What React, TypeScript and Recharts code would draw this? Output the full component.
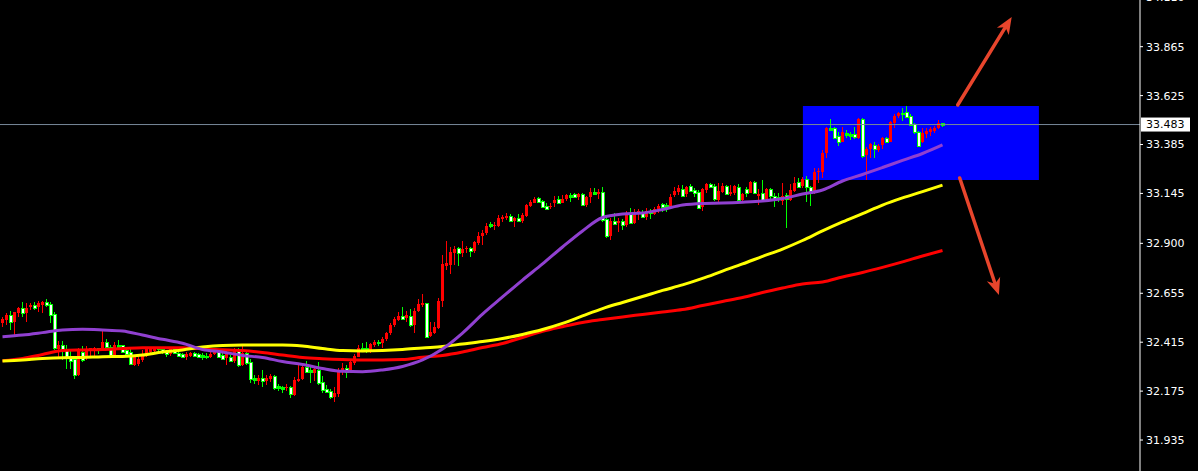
import {
  Bar,
  ComposedChart,
  Line,
  ReferenceArea,
  ReferenceLine,
  XAxis,
  YAxis,
} from 'recharts'

// H1 candles, oldest first
const openPrices = [
  32.507, 32.524, 32.550, 32.514, 32.556, 32.583, 32.560, 32.586, 32.596, 32.589,
  32.596, 32.612, 32.602, 32.553, 32.380, 32.401, 32.381, 32.344, 32.331, 32.254,
  32.367, 32.336, 32.376, 32.373, 32.385, 32.385, 32.417, 32.393, 32.344, 32.401,
  32.401, 32.376, 32.368, 32.303, 32.308, 32.327, 32.352, 32.368, 32.370, 32.388,
  32.380, 32.370, 32.357, 32.381, 32.360, 32.357, 32.344, 32.347, 32.360, 32.357,
  32.354, 32.347, 32.340, 32.357, 32.368, 32.350, 32.336, 32.340, 32.324, 32.376,
  32.303, 32.363, 32.319, 32.237, 32.226, 32.241, 32.226, 32.233, 32.249, 32.200,
  32.193, 32.188, 32.193, 32.156, 32.224, 32.233, 32.291, 32.278, 32.265, 32.278,
  32.219, 32.187, 32.175, 32.144, 32.161, 32.270, 32.288, 32.270, 32.311, 32.344,
  32.385, 32.388, 32.373, 32.403, 32.417, 32.409, 32.429, 32.458, 32.499, 32.524,
  32.544, 32.532, 32.544, 32.499, 32.568, 32.598, 32.606, 32.445, 32.458, 32.486,
  32.617, 32.789, 32.794, 32.854, 32.879, 32.851, 32.871, 32.876, 32.864, 32.900,
  32.936, 32.949, 32.995, 32.985, 32.985, 33.021, 33.026, 33.034, 33.010, 33.023,
  33.010, 33.036, 33.083, 33.100, 33.121, 33.108, 33.083, 33.077, 33.096, 33.116,
  33.100, 33.116, 33.137, 33.142, 33.126, 33.142, 33.088, 33.126, 33.152, 33.142,
  33.152, 33.018, 32.936, 33.010, 32.998, 33.010, 32.990, 33.047, 33.001, 33.047,
  33.055, 33.031, 33.059, 33.044, 33.067, 33.091, 33.087, 33.077, 33.137, 33.154,
  33.165, 33.142, 33.181, 33.162, 33.152, 33.077, 33.162, 33.190, 33.181, 33.113,
  33.154, 33.181, 33.142, 33.145, 33.178, 33.113, 33.165, 33.149, 33.203, 33.132,
  33.149, 33.116, 33.165, 33.132, 33.126, 33.109, 33.136, 33.113, 33.159, 33.203,
  33.181, 33.214, 33.175, 33.146, 33.248, 33.252, 33.342, 33.468, 33.464, 33.425,
  33.399, 33.441, 33.435, 33.435, 33.415, 33.510, 33.333, 33.363, 33.383, 33.358,
  33.383, 33.419, 33.399, 33.489, 33.527, 33.538, 33.543, 33.527, 33.484, 33.445,
  33.396, 33.435, 33.448, 33.451, 33.468, 33.489,
]

const highPrices = [
  32.537, 32.556, 32.566, 32.563, 32.586, 32.612, 32.609, 32.609, 32.610, 32.619,
  32.619, 32.625, 32.612, 32.563, 32.421, 32.421, 32.401, 32.372, 32.347, 32.385,
  32.396, 32.396, 32.386, 32.393, 32.386, 32.475, 32.429, 32.401, 32.417, 32.426,
  32.401, 32.385, 32.385, 32.352, 32.352, 32.376, 32.385, 32.388, 32.388, 32.393,
  32.385, 32.376, 32.388, 32.385, 32.368, 32.363, 32.368, 32.368, 32.368, 32.363,
  32.360, 32.360, 32.368, 32.376, 32.376, 32.360, 32.376, 32.352, 32.385, 32.385,
  32.406, 32.368, 32.331, 32.254, 32.254, 32.278, 32.254, 32.257, 32.254, 32.210,
  32.200, 32.208, 32.200, 32.246, 32.311, 32.303, 32.322, 32.291, 32.298, 32.318,
  32.249, 32.203, 32.183, 32.197, 32.288, 32.314, 32.301, 32.327, 32.357, 32.401,
  32.409, 32.416, 32.412, 32.426, 32.426, 32.442, 32.466, 32.507, 32.537, 32.565,
  32.589, 32.570, 32.576, 32.581, 32.625, 32.651, 32.609, 32.512, 32.516, 32.630,
  32.843, 32.912, 32.884, 32.887, 32.884, 32.912, 32.887, 32.884, 32.913, 32.957,
  32.966, 32.998, 33.006, 33.006, 33.039, 33.039, 33.047, 33.042, 33.031, 33.042,
  33.047, 33.093, 33.113, 33.129, 33.129, 33.113, 33.096, 33.100, 33.134, 33.132,
  33.139, 33.142, 33.146, 33.146, 33.146, 33.145, 33.134, 33.170, 33.170, 33.165,
  33.175, 33.028, 33.023, 33.051, 33.023, 33.018, 33.060, 33.072, 33.067, 33.067,
  33.064, 33.072, 33.067, 33.080, 33.093, 33.096, 33.100, 33.142, 33.178, 33.186,
  33.186, 33.181, 33.191, 33.170, 33.162, 33.170, 33.195, 33.198, 33.191, 33.195,
  33.198, 33.186, 33.186, 33.186, 33.191, 33.145, 33.178, 33.208, 33.206, 33.165,
  33.211, 33.170, 33.170, 33.149, 33.149, 33.198, 33.145, 33.191, 33.227, 33.219,
  33.227, 33.231, 33.181, 33.271, 33.271, 33.358, 33.473, 33.510, 33.473, 33.448,
  33.471, 33.455, 33.448, 33.471, 33.513, 33.513, 33.374, 33.391, 33.399, 33.386,
  33.423, 33.423, 33.500, 33.533, 33.546, 33.563, 33.574, 33.533, 33.489, 33.451,
  33.464, 33.464, 33.471, 33.477, 33.505, 33.492,
]

const lowPrices = [
  32.488, 32.499, 32.475, 32.450, 32.537, 32.537, 32.516, 32.573, 32.573, 32.565,
  32.556, 32.589, 32.507, 32.376, 32.336, 32.327, 32.282, 32.282, 32.236, 32.249,
  32.319, 32.327, 32.344, 32.344, 32.357, 32.376, 32.376, 32.336, 32.340, 32.376,
  32.360, 32.344, 32.303, 32.300, 32.298, 32.319, 32.340, 32.363, 32.360, 32.373,
  32.357, 32.344, 32.347, 32.357, 32.344, 32.340, 32.327, 32.340, 32.344, 32.336,
  32.327, 32.332, 32.336, 32.352, 32.336, 32.327, 32.303, 32.319, 32.314, 32.291,
  32.298, 32.303, 32.213, 32.210, 32.205, 32.197, 32.205, 32.221, 32.180, 32.177,
  32.167, 32.177, 32.139, 32.151, 32.221, 32.229, 32.262, 32.216, 32.226, 32.205,
  32.167, 32.164, 32.134, 32.123, 32.147, 32.254, 32.241, 32.262, 32.304, 32.340,
  32.368, 32.363, 32.363, 32.393, 32.396, 32.388, 32.422, 32.450, 32.491, 32.520,
  32.524, 32.516, 32.491, 32.458, 32.565, 32.589, 32.434, 32.442, 32.455, 32.480,
  32.589, 32.769, 32.750, 32.794, 32.789, 32.831, 32.851, 32.835, 32.851, 32.892,
  32.892, 32.941, 32.977, 32.966, 32.982, 33.006, 33.015, 33.006, 32.982, 33.006,
  32.998, 33.031, 33.077, 33.096, 33.096, 33.075, 33.064, 33.067, 33.077, 33.092,
  33.096, 33.110, 33.105, 33.121, 33.113, 33.088, 33.080, 33.096, 33.137, 33.116,
  33.006, 32.925, 32.916, 32.990, 32.957, 32.965, 32.982, 32.995, 32.995, 33.015,
  33.023, 33.015, 33.018, 33.039, 33.047, 33.055, 33.055, 33.072, 33.126, 33.137,
  33.129, 33.129, 33.154, 33.129, 33.067, 33.060, 33.145, 33.170, 33.109, 33.096,
  33.145, 33.137, 33.132, 33.137, 33.105, 33.105, 33.129, 33.145, 33.142, 33.088,
  33.109, 33.105, 33.113, 33.080, 33.105, 33.088, 32.974, 33.109, 33.154, 33.170,
  33.170, 33.105, 33.083, 33.141, 33.194, 33.219, 33.317, 33.451, 33.412, 33.379,
  33.396, 33.419, 33.407, 33.412, 33.412, 33.320, 33.211, 33.317, 33.320, 33.350,
  33.363, 33.391, 33.396, 33.464, 33.517, 33.500, 33.517, 33.477, 33.435, 33.374,
  33.391, 33.419, 33.428, 33.440, 33.461, 33.473,
]

const closePrices = [
  32.527, 32.550, 32.514, 32.563, 32.583, 32.556, 32.583, 32.599, 32.583, 32.605,
  32.612, 32.599, 32.550, 32.386, 32.401, 32.380, 32.339, 32.324, 32.254, 32.376,
  32.327, 32.380, 32.385, 32.385, 32.376, 32.417, 32.393, 32.344, 32.401, 32.390,
  32.368, 32.357, 32.306, 32.340, 32.334, 32.357, 32.380, 32.385, 32.385, 32.380,
  32.367, 32.357, 32.385, 32.360, 32.347, 32.344, 32.357, 32.360, 32.347, 32.344,
  32.340, 32.340, 32.357, 32.368, 32.344, 32.334, 32.357, 32.324, 32.373, 32.303,
  32.363, 32.314, 32.233, 32.229, 32.241, 32.226, 32.241, 32.251, 32.192, 32.188,
  32.187, 32.197, 32.159, 32.229, 32.234, 32.291, 32.270, 32.267, 32.283, 32.216,
  32.180, 32.172, 32.144, 32.164, 32.278, 32.286, 32.268, 32.318, 32.347, 32.385,
  32.376, 32.380, 32.406, 32.417, 32.409, 32.430, 32.462, 32.499, 32.529, 32.543,
  32.527, 32.548, 32.499, 32.568, 32.602, 32.609, 32.442, 32.467, 32.491, 32.617,
  32.799, 32.805, 32.859, 32.871, 32.854, 32.874, 32.879, 32.863, 32.908, 32.936,
  32.952, 32.985, 32.985, 32.990, 33.023, 33.028, 33.034, 33.011, 33.023, 33.011,
  33.039, 33.088, 33.103, 33.118, 33.105, 33.080, 33.070, 33.083, 33.113, 33.100,
  33.119, 33.139, 33.129, 33.126, 33.142, 33.088, 33.126, 33.152, 33.142, 33.154,
  33.015, 32.936, 33.011, 32.993, 33.011, 32.988, 33.051, 33.001, 33.055, 33.060,
  33.031, 33.060, 33.047, 33.070, 33.083, 33.080, 33.080, 33.129, 33.159, 33.170,
  33.134, 33.175, 33.159, 33.145, 33.072, 33.167, 33.191, 33.175, 33.116, 33.159,
  33.181, 33.142, 33.152, 33.181, 33.113, 33.142, 33.149, 33.203, 33.145, 33.142,
  33.113, 33.165, 33.132, 33.116, 33.116, 33.132, 33.116, 33.162, 33.195, 33.178,
  33.214, 33.175, 33.149, 33.248, 33.255, 33.342, 33.468, 33.456, 33.419, 33.399,
  33.445, 33.432, 33.427, 33.422, 33.510, 33.330, 33.363, 33.386, 33.363, 33.379,
  33.419, 33.399, 33.494, 33.527, 33.538, 33.533, 33.522, 33.481, 33.445, 33.379,
  33.441, 33.451, 33.459, 33.468, 33.489, 33.483,
]

// moving averages, sampled every 5 bars
const maBars = [
  0, 5, 10, 15, 20, 25, 30, 35, 40, 45, 50, 55, 60, 65, 70, 75,
  80, 85, 90, 95, 100, 105, 110, 115, 120, 125, 130, 135, 140, 145, 150, 155,
  160, 165, 170, 175, 180, 185, 190, 195, 200, 205, 210, 215, 220, 225, 230, 235,
]
const maFast = [
  32.442, 32.450, 32.462, 32.475, 32.478, 32.475, 32.470, 32.450, 32.429, 32.410, 32.379, 32.367, 32.350, 32.340, 32.320, 32.306,
  32.286, 32.272, 32.270, 32.279, 32.296, 32.328, 32.382, 32.460, 32.553, 32.637, 32.720, 32.799, 32.882, 32.961, 33.027, 33.044,
  33.049, 33.066, 33.088, 33.096, 33.098, 33.102, 33.108, 33.120, 33.142, 33.162, 33.206, 33.238, 33.272, 33.307, 33.341, 33.383,
]
const maMid = [
  32.323, 32.328, 32.335, 32.339, 32.340, 32.344, 32.345, 32.352, 32.367, 32.377, 32.391, 32.399, 32.401, 32.401, 32.401, 32.396,
  32.384, 32.374, 32.372, 32.374, 32.379, 32.387, 32.394, 32.406, 32.418, 32.433, 32.453, 32.477, 32.507, 32.544, 32.580, 32.610,
  32.639, 32.669, 32.696, 32.728, 32.764, 32.799, 32.836, 32.872, 32.914, 32.961, 33.005, 33.046, 33.088, 33.123, 33.154, 33.186,
]
const maSlow = [
  32.324, 32.335, 32.355, 32.374, 32.377, 32.379, 32.384, 32.388, 32.388, 32.388, 32.382, 32.378, 32.374, 32.365, 32.352, 32.340,
  32.334, 32.330, 32.328, 32.328, 32.330, 32.341, 32.350, 32.367, 32.389, 32.409, 32.438, 32.468, 32.491, 32.512, 32.526, 32.539,
  32.551, 32.563, 32.575, 32.595, 32.615, 32.634, 32.659, 32.681, 32.701, 32.710, 32.735, 32.757, 32.782, 32.809, 32.838, 32.865,
]

const priceTicks = [34.11, 33.865, 33.625, 33.385, 33.145, 32.9, 32.655, 32.415, 32.175, 31.935]
const lastPrice = 33.483

// range box and the two breakout arrows (bar index / price)
const rangeBox = { x1: 200.1, x2: 259.1, y1: 33.211, y2: 33.574 }
const upArrow = [{ x: 238.8, y: 33.579 }, { x: 252.3, y: 34.011 }]
const downArrow = [{ x: 239.3, y: 33.221 }, { x: 249.1, y: 32.646 }]

const candles = openPrices.map((open, i) => ({
  bar: i,
  open,
  high: highPrices[i],
  low: lowPrices[i],
  close: closePrices[i],
  range: [lowPrices[i], highPrices[i]],
}))

const maRows = maBars.map((bar, k) => ({
  bar,
  fast: maFast[k],
  mid: maMid[k],
  slow: maSlow[k],
}))

const axisFont = "'DejaVu Sans', Tahoma, sans-serif"
const arrowColor = '#e8452c'

const Candle = (props: any) => {
  const { x, y, width, height, payload } = props
  const { open, high, low, close } = payload
  const span = high - low
  const perUnit = span > 0 ? height / span : 0
  const yOf = (v: number) => y + (high - v) * perUnit
  const up = close > open
  const color = up ? '#ff0000' : '#00ff00'
  const cx = Math.floor(x + width / 2)
  const top = Math.round(y)
  const bottom = Math.round(y + height)
  const bodyTop = Math.round(yOf(Math.max(open, close)))
  const bodyBottom = Math.round(yOf(Math.min(open, close)))
  const bh = Math.max(1, bodyBottom - bodyTop)
  const wick = <rect x={cx} y={top} width={1} height={Math.max(1, bottom - top)} fill={color} />
  if (up) {
    return (
      <g>
        {wick}
        <rect x={cx - 1} y={bodyTop} width={3} height={bh} fill={color} />
      </g>
    )
  }
  // bear candles: lime outline, white fill
  return (
    <g>
      {wick}
      <rect x={cx - 1} y={bodyTop} width={4} height={bh + 1} fill={color} />
      {bh > 2 && <rect x={cx} y={bodyTop + 1} width={2} height={bh - 1} fill="#ffffff" />}
    </g>
  )
}

const Arrow = (props: any) => {
  const { x1, y1, x2, y2 } = props
  const dx = x2 - x1
  const dy = y2 - y1
  const len = Math.hypot(dx, dy) || 1
  const ux = dx / len
  const uy = dy / len
  const px = -uy
  const py = ux
  const head = 17
  const half = 7
  const notch = 12
  const bx = x2 - ux * head
  const by = y2 - uy * head
  const nx = x2 - ux * notch
  const ny = y2 - uy * notch
  return (
    <g>
      <line x1={x1} y1={y1} x2={nx} y2={ny} stroke={arrowColor} strokeWidth={3.5} strokeLinecap="round" />
      <polygon
        points={`${x2},${y2} ${bx + px * half},${by + py * half} ${nx},${ny} ${bx - px * half},${by - py * half}`}
        fill={arrowColor}
      />
    </g>
  )
}

const PriceTick = (props: any) => {
  const { x, y, payload } = props
  return (
    <text x={x} y={y} dy="0.36em" textAnchor="start" fill="#ffffff" fontSize={11} fontFamily={axisFont}>
      {payload.value.toFixed(3)}
    </text>
  )
}

const PriceTag = (props: any) => {
  const { viewBox } = props
  const right = viewBox.x + viewBox.width
  return (
    <g>
      <rect x={right + 1} y={viewBox.y - 7} width={49} height={14} fill="#ffffff" />
      <text x={right + 6} y={viewBox.y} dy="0.36em" fill="#000000" fontSize={11} fontFamily={axisFont}>
        {lastPrice.toFixed(3)}
      </text>
    </g>
  )
}

export default function App() {
  return (
    <div style={{ position: 'absolute', left: 0, top: -4, width: 1198, height: 475, background: '#000000' }}>
      <ComposedChart
        width={1198}
        height={475}
        data={candles}
        margin={{ top: 0, right: 0, left: 0, bottom: 0 }}
        style={{ background: '#000000' }}
      >
        <XAxis
          dataKey="bar"
          type="number"
          domain={[-0.625, 284.375]}
          allowDataOverflow
          hide
        />
        <YAxis
          orientation="right"
          width={58}
          domain={[31.783, 34.1137]}
          allowDataOverflow
          ticks={priceTicks}
          interval={0}
          axisLine={{ stroke: '#ffffff' }}
          tickLine={{ stroke: '#ffffff' }}
          tickSize={3}
          tickMargin={3}
          tick={<PriceTick />}
        />
        <ReferenceArea
          x1={rangeBox.x1}
          x2={rangeBox.x2}
          y1={rangeBox.y1}
          y2={rangeBox.y2}
          fill="#0000ff"
          fillOpacity={1}
          stroke="none"
        />
        <Line data={maRows} dataKey="slow" type="monotone" stroke="#ff0000" strokeWidth={3} dot={false} activeDot={false} isAnimationActive={false} />
        <Line data={maRows} dataKey="mid" type="monotone" stroke="#ffff00" strokeWidth={3} dot={false} activeDot={false} isAnimationActive={false} />
        <Line data={maRows} dataKey="fast" type="monotone" stroke="#9040d0" strokeWidth={3} dot={false} activeDot={false} isAnimationActive={false} />
        <Bar dataKey="range" barSize={3} shape={<Candle />} activeBar={false} isAnimationActive={false} />
        <ReferenceLine y={lastPrice} stroke="#778899" strokeWidth={1} label={<PriceTag />} />
        <ReferenceLine segment={upArrow} shape={Arrow} />
        <ReferenceLine segment={downArrow} shape={Arrow} />
      </ComposedChart>
    </div>
  )
}
